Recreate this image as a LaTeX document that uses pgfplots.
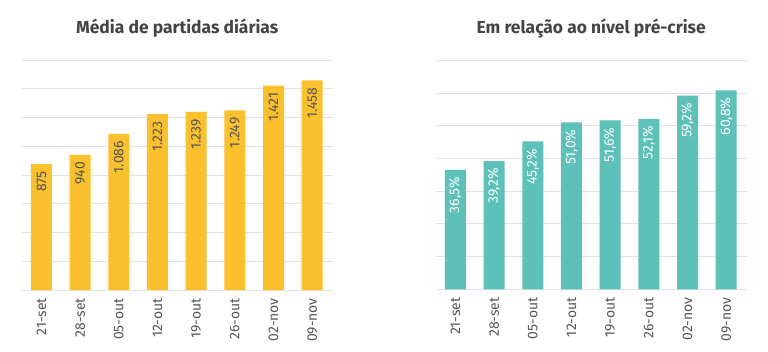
\documentclass[border=0pt]{standalone}
\usepackage{fontspec}
\setmainfont{Fira Sans}
\usepackage{pgfplots}
\pgfplotsset{compat=1.18}
\definecolor{ybar}{HTML}{FBC02D}
\definecolor{tbar}{HTML}{5DC1B9}
\definecolor{titlec}{HTML}{444444}
\definecolor{labc}{HTML}{555555}
\definecolor{gridc}{HTML}{E3E3E3}
\pgfplotsset{
  /pgf/number format/assume math mode=true,
  mybase/.style={
    scale only axis,
    width=311bp, height=229bp,
    ybar, bar width=21bp,
    xmin=-0.51, xmax=7.53,
    ymin=0,
    xtick={0,...,7},
    xticklabels={21-set,28-set,05-out,12-out,19-out,26-out,02-nov,09-nov},
    xticklabel style={rotate=90, anchor=east, inner xsep=8bp, font=\fontsize{14}{16}\selectfont, text=labc},
    yticklabels={},
    major tick length=0pt,
    axis line style={draw=none},
    ymajorgrids,
    major grid style={draw=gridc, line width=0.8pt},
    title style={at={(0.5,1)}, anchor=base, yshift=21bp, font=\fontsize{17.5}{20}\selectfont\bfseries, text=titlec},
    nodes near coords,
    every node near coord/.append style={rotate=90, anchor=east, inner xsep=7bp, font=\fontsize{14}{16}\selectfont},
    clip=false,
  }
}
\begin{document}
\begin{tikzpicture}
\useasboundingbox (0,0) rectangle (768bp,352bp);
\begin{axis}[mybase,
  at={(21.7bp,62bp)}, anchor=south west,
  height=230bp,
  ymax=1600, ytick={0,200,...,1600},
  title={Média de partidas diárias},
  nodes near coords={\pgfmathprintnumber[fixed,precision=0,1000 sep={.}]{\pgfplotspointmeta}},
  every node near coord/.append style={text=labc},
]
\addplot[draw=none, fill=ybar] coordinates {
(0,875) (1,940) (2,1086) (3,1223) (4,1239) (5,1249) (6,1421) (7,1458)};
\end{axis}
\begin{axis}[mybase,
  at={(435.7bp,62.7bp)}, anchor=south west,
  ymax=70, ytick={0,10,...,70},
  title={Em relação ao nível pré-crise},
  nodes near coords={\pgfmathprintnumber[fixed,fixed zerofill,precision=1,use comma]{\pgfplotspointmeta}\%},
  every node near coord/.append style={text=white},
]
\addplot[draw=none, fill=tbar] coordinates {
(0,36.5) (1,39.2) (2,45.2) (3,51.0) (4,51.6) (5,52.1) (6,59.2) (7,60.8)};
\end{axis}
\end{tikzpicture}
\end{document}
